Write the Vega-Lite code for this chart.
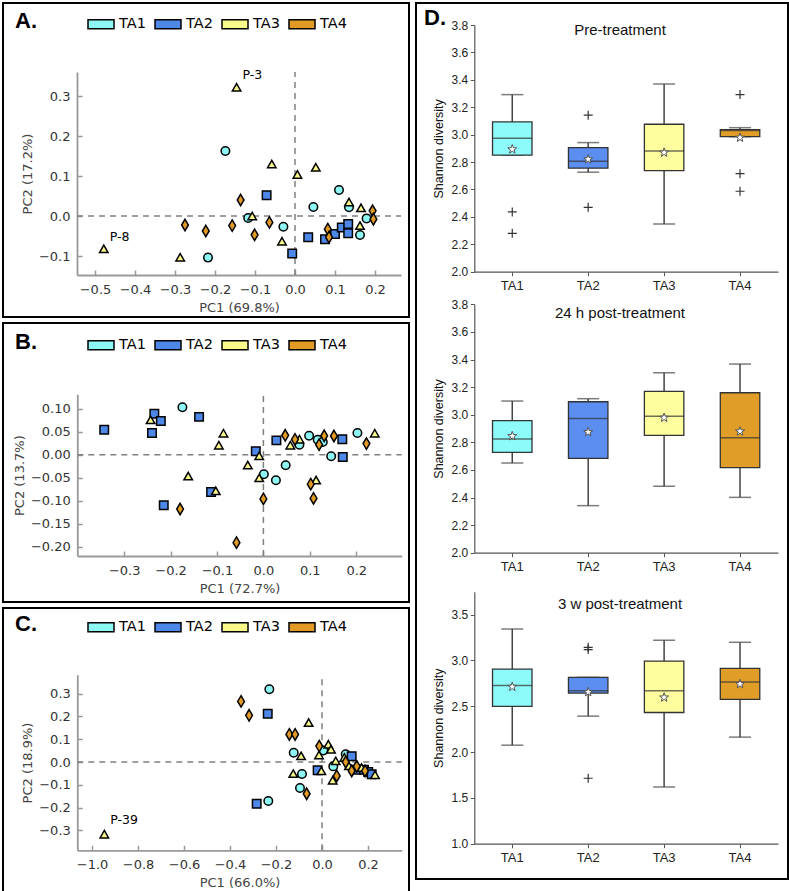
{
  "$schema": "https://vega.github.io/schema/vega-lite/v6.json",
  "background": "white",
  "padding": {"left": 2, "top": 2, "right": 0, "bottom": 0},
  "config": {
    "view": {"stroke": "black", "strokeWidth": 2},
    "font": "DejaVu Sans",
    "axis": {"grid": false, "domainColor": "#999", "domainWidth": 1.8, "tickColor": "#999", "tickWidth": 1.5, "tickSize": -5, "labelFont": "DejaVu Sans", "labelFontSize": 13, "labelColor": "#333", "titleFont": "DejaVu Sans", "titleFontSize": 13, "titleFontWeight": "normal", "titleColor": "#444"},
    "axisX": {"labelPadding": 13, "titlePadding": 5},
    "axisY": {"labelPadding": 12, "titlePadding": 4},
    "legend": {"orient": "none", "direction": "horizontal", "titleOrient": "left", "titleFont": "Liberation Sans", "titleFontSize": 22, "titleFontWeight": "bold", "titleColor": "black", "titlePadding": 50, "symbolType": "M-1,-0.34H1V0.34H-1Z", "symbolSize": 676, "symbolStrokeColor": "black", "symbolStrokeWidth": 1.5, "symbolOpacity": 1, "labelFont": "DejaVu Sans", "labelFontSize": 14.5, "labelColor": "black", "labelOffset": 4, "columnPadding": 6, "padding": 0}
  },
  "datasets": {
    "pA": [
      {"g":"TA1","x":-0.2175,"y":-0.104},{"g":"TA1","x":-0.174,"y":0.1625},{"g":"TA1","x":-0.117,"y":-0.005},{"g":"TA1","x":-0.029,"y":-0.027},{"g":"TA1","x":0.046,"y":0.0225},{"g":"TA1","x":0.11,"y":0.065},{"g":"TA1","x":0.135,"y":0.022},{"g":"TA1","x":0.179,"y":-0.006},{"g":"TA1","x":0.1625,"y":-0.0475},
      {"g":"TA2","x":-0.071,"y":0.052},{"g":"TA2","x":-0.007,"y":-0.094},{"g":"TA2","x":0.033,"y":-0.053},{"g":"TA2","x":0.075,"y":-0.058},{"g":"TA2","x":0.1,"y":-0.045},{"g":"TA2","x":0.117,"y":-0.029},{"g":"TA2","x":0.133,"y":-0.043},{"g":"TA2","x":0.133,"y":-0.02},
      {"g":"TA3","x":-0.478,"y":-0.085},{"g":"TA3","x":-0.287,"y":-0.106},{"g":"TA3","x":-0.146,"y":0.319},{"g":"TA3","x":-0.107,"y":-0.003},{"g":"TA3","x":-0.058,"y":0.127},{"g":"TA3","x":-0.0325,"y":-0.066},{"g":"TA3","x":0.006,"y":0.101},{"g":"TA3","x":0.052,"y":0.119},{"g":"TA3","x":0.135,"y":0.032},{"g":"TA3","x":0.165,"y":0.0175},{"g":"TA3","x":0.1625,"y":-0.027},
      {"g":"TA4","x":-0.275,"y":-0.0225},{"g":"TA4","x":-0.223,"y":-0.0375},{"g":"TA4","x":-0.157,"y":-0.024},{"g":"TA4","x":-0.136,"y":0.04},{"g":"TA4","x":-0.101,"y":-0.047},{"g":"TA4","x":-0.064,"y":-0.016},{"g":"TA4","x":0.082,"y":-0.033},{"g":"TA4","x":0.085,"y":-0.053},{"g":"TA4","x":0.194,"y":0.013},{"g":"TA4","x":0.196,"y":-0.008}
    ],
    "pB": [
      {"g":"TA1","x":-0.1745,"y":0.103},{"g":"TA1","x":0.001,"y":-0.0425},{"g":"TA1","x":0.027,"y":-0.0556},{"g":"TA1","x":0.048,"y":-0.023},{"g":"TA1","x":0.0776,"y":0.0217},{"g":"TA1","x":0.0985,"y":0.041},{"g":"TA1","x":0.117,"y":0.0325},{"g":"TA1","x":0.128,"y":0.0275},{"g":"TA1","x":0.146,"y":-0.0035},{"g":"TA1","x":0.2026,"y":0.047},
      {"g":"TA2","x":-0.343,"y":0.054},{"g":"TA2","x":-0.235,"y":0.089},{"g":"TA2","x":-0.221,"y":0.073},{"g":"TA2","x":-0.24,"y":0.047},{"g":"TA2","x":-0.1386,"y":0.082},{"g":"TA2","x":-0.2147,"y":-0.11},{"g":"TA2","x":-0.1127,"y":-0.081},{"g":"TA2","x":-0.0164,"y":0.0073},{"g":"TA2","x":0.028,"y":0.031},{"g":"TA2","x":0.17,"y":0.0334},{"g":"TA2","x":0.171,"y":-0.005},
      {"g":"TA3","x":-0.243,"y":0.073},{"g":"TA3","x":-0.086,"y":0.044},{"g":"TA3","x":-0.096,"y":0.018},{"g":"TA3","x":-0.162,"y":-0.049},{"g":"TA3","x":-0.1026,"y":-0.081},{"g":"TA3","x":-0.0336,"y":-0.025},{"g":"TA3","x":-0.009,"y":-0.005},{"g":"TA3","x":-0.009,"y":-0.053},{"g":"TA3","x":0.058,"y":0.018},{"g":"TA3","x":0.0776,"y":0.031},{"g":"TA3","x":0.1136,"y":-0.0577},{"g":"TA3","x":0.24,"y":0.044},
      {"g":"TA4","x":-0.1795,"y":-0.118},{"g":"TA4","x":-0.058,"y":-0.191},{"g":"TA4","x":0.0,"y":-0.096},{"g":"TA4","x":0.047,"y":0.042},{"g":"TA4","x":0.068,"y":0.033},{"g":"TA4","x":0.12,"y":0.0217},{"g":"TA4","x":0.131,"y":0.041},{"g":"TA4","x":0.152,"y":0.0405},{"g":"TA4","x":0.222,"y":0.024},{"g":"TA4","x":0.102,"y":-0.064},{"g":"TA4","x":0.108,"y":-0.095}
    ],
    "pC": [
      {"g":"TA1","x":-0.229,"y":0.319},{"g":"TA1","x":-0.2335,"y":-0.171},{"g":"TA1","x":-0.123,"y":0.041},{"g":"TA1","x":-0.087,"y":-0.0526},{"g":"TA1","x":-0.0957,"y":-0.114},{"g":"TA1","x":0.006,"y":0.051},{"g":"TA1","x":0.049,"y":-0.019},{"g":"TA1","x":0.103,"y":0.034},
      {"g":"TA2","x":-0.236,"y":0.212},{"g":"TA2","x":-0.284,"y":-0.183},{"g":"TA2","x":-0.019,"y":-0.036},{"g":"TA2","x":0.129,"y":0.025},{"g":"TA2","x":0.151,"y":-0.034},{"g":"TA2","x":0.1826,"y":-0.034},{"g":"TA2","x":0.201,"y":-0.044},{"g":"TA2","x":0.216,"y":-0.054},
      {"g":"TA3","x":-0.9465,"y":-0.3215},{"g":"TA3","x":-0.058,"y":0.168},{"g":"TA3","x":-0.091,"y":0.022},{"g":"TA3","x":-0.125,"y":-0.056},{"g":"TA3","x":-0.013,"y":0.026},{"g":"TA3","x":-0.003,"y":-0.044},{"g":"TA3","x":0.0275,"y":0.073},{"g":"TA3","x":0.039,"y":0.051},{"g":"TA3","x":0.0596,"y":0.0},{"g":"TA3","x":0.0465,"y":-0.085},{"g":"TA3","x":0.097,"y":0.015},{"g":"TA3","x":0.117,"y":-0.022},{"g":"TA3","x":0.172,"y":-0.029},{"g":"TA3","x":0.2304,"y":-0.061},
      {"g":"TA4","x":-0.352,"y":0.266},{"g":"TA4","x":-0.317,"y":0.205},{"g":"TA4","x":-0.142,"y":0.121},{"g":"TA4","x":-0.117,"y":0.121},{"g":"TA4","x":-0.0667,"y":-0.139},{"g":"TA4","x":-0.012,"y":0.07},{"g":"TA4","x":0.064,"y":-0.061},{"g":"TA4","x":0.103,"y":0.0},{"g":"TA4","x":0.129,"y":-0.039},{"g":"TA4","x":0.151,"y":-0.019},{"g":"TA4","x":0.187,"y":-0.039}
    ],
    "box": [
      {"s":1,"g":"TA1","lo":2.85,"q1":2.85,"med":2.974,"q3":3.093,"hi":3.292,"mean":2.893},
      {"s":1,"g":"TA2","lo":2.726,"q1":2.755,"med":2.806,"q3":2.905,"hi":2.942,"mean":2.82},
      {"s":1,"g":"TA3","lo":2.348,"q1":2.737,"med":2.881,"q3":3.076,"hi":3.37,"mean":2.869},
      {"s":1,"g":"TA4","lo":2.985,"q1":2.985,"med":3.03,"q3":3.036,"hi":3.051,"mean":2.978},
      {"s":2,"g":"TA1","lo":2.65,"q1":2.727,"med":2.824,"q3":2.957,"hi":3.099,"mean":2.845},
      {"s":2,"g":"TA2","lo":2.341,"q1":2.684,"med":2.973,"q3":3.094,"hi":3.116,"mean":2.874},
      {"s":2,"g":"TA3","lo":2.481,"q1":2.85,"med":2.988,"q3":3.169,"hi":3.304,"mean":2.978},
      {"s":2,"g":"TA4","lo":2.401,"q1":2.616,"med":2.833,"q3":3.159,"hi":3.367,"mean":2.879},
      {"s":3,"g":"TA1","lo":2.075,"q1":2.498,"med":2.727,"q3":2.906,"hi":3.343,"mean":2.713},
      {"s":3,"g":"TA2","lo":2.392,"q1":2.644,"med":2.669,"q3":2.815,"hi":2.815,"mean":2.655},
      {"s":3,"g":"TA3","lo":1.62,"q1":2.432,"med":2.669,"q3":2.993,"hi":3.219,"mean":2.596},
      {"s":3,"g":"TA4","lo":2.163,"q1":2.574,"med":2.764,"q3":2.913,"hi":3.198,"mean":2.742}
    ],
    "out": [
      {"s":1,"g":"TA1","v":2.436},{"s":1,"g":"TA1","v":2.28},{"s":1,"g":"TA2","v":3.142},{"s":1,"g":"TA2","v":2.47},{"s":1,"g":"TA4","v":3.292},{"s":1,"g":"TA4","v":2.715},{"s":1,"g":"TA4","v":2.587},
      {"s":3,"g":"TA2","v":3.143},{"s":3,"g":"TA2","v":3.118},{"s":3,"g":"TA2","v":1.714}
    ]
  },
  "resolve": {"scale": {"fill": "independent"}, "legend": {"fill": "independent"}},
  "spacing": 5,
  "hconcat": [
    {
      "spacing": 4,
      "resolve": {"scale": {"fill": "independent"}, "legend": {"fill": "independent"}},
      "vconcat": [
        {
          "width": 406, "height": 314,
          "encoding": {
            "x": {"field": "x", "type": "quantitative", "scale": {"domain": [-0.545, 0.265], "range": [74, 398], "nice": false, "zero": false}, "axis": {"title": "PC1 (69.8%)", "values": [-0.5, -0.4, -0.3, -0.2, -0.1, 0, 0.1, 0.2], "format": ".1f", "offset": -42}},
            "y": {"field": "y", "type": "quantitative", "scale": {"domain": [-0.1475, 0.36], "range": [272, 69], "nice": false, "zero": false}, "axis": {"title": "PC2 (17.2%)", "values": [-0.1, 0, 0.1, 0.2, 0.3], "format": ".1f", "offset": -74}},
            "fill": {"field": "g", "type": "nominal", "scale": {"domain": ["TA1", "TA2", "TA3", "TA4"], "range": ["#8DF7F4", "#4D88E8", "#F9F98B", "#E19B24"]}, "legend": {"legendX": 12, "legendY": 7, "title": "A."}}
          },
          "layer": [
            {"data": {"values": [{"x": -0.545, "x2": 0.265, "y": 0, "y2": 0}, {"x": 0, "x2": 0, "y": -0.1475, "y2": 0.36}]}, "mark": {"type": "rule", "color": "#808080", "strokeWidth": 1.5, "strokeDash": [6, 5]}, "encoding": {"x2": {"field": "x2"}, "y2": {"field": "y2"}, "fill": null}},
            {"data": {"name": "pA"}, "transform": [{"filter": "datum.g == 'TA1'"}], "mark": {"type": "point", "shape": "circle", "filled": true, "size": 72, "stroke": "black", "strokeWidth": 1.5, "opacity": 1}},
            {"data": {"name": "pA"}, "transform": [{"filter": "datum.g == 'TA2'"}], "mark": {"type": "point", "shape": "square", "filled": true, "size": 72, "stroke": "black", "strokeWidth": 1.5, "opacity": 1}},
            {"data": {"name": "pA"}, "transform": [{"filter": "datum.g == 'TA3'"}], "mark": {"type": "point", "shape": "M0,-1.15L1.0,0.6L-1.0,0.6Z", "filled": true, "size": 72, "stroke": "black", "strokeWidth": 1.5, "opacity": 1}},
            {"data": {"name": "pA"}, "transform": [{"filter": "datum.g == 'TA4'"}], "mark": {"type": "point", "shape": "M0,-1.35L0.8,0L0,1.35L-0.8,0Z", "filled": true, "size": 72, "stroke": "black", "strokeWidth": 1.5, "opacity": 1}},
            {"data": {"values": [{"label": "P-3", "x": -0.146, "y": 0.319}, {"label": "P-8", "x": -0.478, "y": -0.085}]}, "mark": {"type": "text", "align": "left", "dx": 6, "dy": -13, "fontSize": 12.5, "font": "DejaVu Sans", "color": "black"}, "encoding": {"text": {"field": "label"}, "fill": null}}
          ]
        },
        {
          "width": 406, "height": 279,
          "encoding": {
            "x": {"field": "x", "type": "quantitative", "scale": {"domain": [-0.401, 0.298], "range": [74.3, 398.7], "nice": false, "zero": false}, "axis": {"title": "PC1 (72.7%)", "values": [-0.3, -0.2, -0.1, 0, 0.1, 0.2], "format": ".1f", "offset": -46}},
            "y": {"field": "y", "type": "quantitative", "scale": {"domain": [-0.22, 0.131], "range": [233, 71.3], "nice": false, "zero": false}, "axis": {"title": "PC2 (13.7%)", "values": [-0.2, -0.15, -0.1, -0.05, 0, 0.05, 0.1], "format": ".2f", "offset": -74.3}},
            "fill": {"field": "g", "type": "nominal", "scale": {"domain": ["TA1", "TA2", "TA3", "TA4"], "range": ["#8DF7F4", "#4D88E8", "#F9F98B", "#E19B24"]}, "legend": {"legendX": 12, "legendY": 8, "title": "B."}}
          },
          "layer": [
            {"data": {"values": [{"x": -0.401, "x2": 0.298, "y": 0, "y2": 0}, {"x": 0, "x2": 0, "y": -0.22, "y2": 0.131}]}, "mark": {"type": "rule", "color": "#808080", "strokeWidth": 1.5, "strokeDash": [6, 5]}, "encoding": {"x2": {"field": "x2"}, "y2": {"field": "y2"}, "fill": null}},
            {"data": {"name": "pB"}, "transform": [{"filter": "datum.g == 'TA1'"}], "mark": {"type": "point", "shape": "circle", "filled": true, "size": 72, "stroke": "black", "strokeWidth": 1.5, "opacity": 1}},
            {"data": {"name": "pB"}, "transform": [{"filter": "datum.g == 'TA2'"}], "mark": {"type": "point", "shape": "square", "filled": true, "size": 72, "stroke": "black", "strokeWidth": 1.5, "opacity": 1}},
            {"data": {"name": "pB"}, "transform": [{"filter": "datum.g == 'TA3'"}], "mark": {"type": "point", "shape": "M0,-1.15L1.0,0.6L-1.0,0.6Z", "filled": true, "size": 72, "stroke": "black", "strokeWidth": 1.5, "opacity": 1}},
            {"data": {"name": "pB"}, "transform": [{"filter": "datum.g == 'TA4'"}], "mark": {"type": "point", "shape": "M0,-1.35L0.8,0L0,1.35L-0.8,0Z", "filled": true, "size": 72, "stroke": "black", "strokeWidth": 1.5, "opacity": 1}}
          ]
        },
        {
          "width": 406, "height": 284,
          "encoding": {
            "x": {"field": "x", "type": "quantitative", "scale": {"domain": [-1.064, 0.3465], "range": [74.3, 398.7], "nice": false, "zero": false}, "axis": {"title": "PC1 (66.0%)", "values": [-1, -0.8, -0.6, -0.4, -0.2, 0, 0.2], "format": ".1f", "offset": -41.7}},
            "y": {"field": "y", "type": "quantitative", "scale": {"domain": [-0.387, 0.383], "range": [242.3, 66.7], "nice": false, "zero": false}, "axis": {"title": "PC2 (18.9%)", "values": [-0.3, -0.2, -0.1, 0, 0.1, 0.2, 0.3], "format": ".1f", "offset": -74.3}},
            "fill": {"field": "g", "type": "nominal", "scale": {"domain": ["TA1", "TA2", "TA3", "TA4"], "range": ["#8DF7F4", "#4D88E8", "#F9F98B", "#E19B24"]}, "legend": {"legendX": 12, "legendY": 5, "title": "C."}}
          },
          "layer": [
            {"data": {"values": [{"x": -1.064, "x2": 0.3465, "y": 0, "y2": 0}, {"x": 0, "x2": 0, "y": -0.387, "y2": 0.383}]}, "mark": {"type": "rule", "color": "#808080", "strokeWidth": 1.5, "strokeDash": [6, 5]}, "encoding": {"x2": {"field": "x2"}, "y2": {"field": "y2"}, "fill": null}},
            {"data": {"name": "pC"}, "transform": [{"filter": "datum.g == 'TA1'"}], "mark": {"type": "point", "shape": "circle", "filled": true, "size": 72, "stroke": "black", "strokeWidth": 1.5, "opacity": 1}},
            {"data": {"name": "pC"}, "transform": [{"filter": "datum.g == 'TA2'"}], "mark": {"type": "point", "shape": "square", "filled": true, "size": 72, "stroke": "black", "strokeWidth": 1.5, "opacity": 1}},
            {"data": {"name": "pC"}, "transform": [{"filter": "datum.g == 'TA3'"}], "mark": {"type": "point", "shape": "M0,-1.15L1.0,0.6L-1.0,0.6Z", "filled": true, "size": 72, "stroke": "black", "strokeWidth": 1.5, "opacity": 1}},
            {"data": {"name": "pC"}, "transform": [{"filter": "datum.g == 'TA4'"}], "mark": {"type": "point", "shape": "M0,-1.35L0.8,0L0,1.35L-0.8,0Z", "filled": true, "size": 72, "stroke": "black", "strokeWidth": 1.5, "opacity": 1}},
            {"data": {"values": [{"label": "P-39", "x": -0.9465, "y": -0.3215}]}, "mark": {"type": "text", "align": "left", "dx": 6, "dy": -15, "fontSize": 12.5, "font": "DejaVu Sans", "color": "black"}, "encoding": {"text": {"field": "label"}, "fill": null}}
          ]
        }
      ]
    },
    {
      "width": 372, "height": 876,
      "title": {"text": "D.", "anchor": "start", "frame": "group", "offset": -27, "dx": 8, "font": "Liberation Sans", "fontSize": 22, "fontWeight": "bold", "color": "black"},
      "resolve": {"scale": {"x": "independent", "y": "independent"}, "axis": {"x": "independent", "y": "independent"}},
      "layer": [
        {
          "layer": [
            {"data": {"name": "box"}, "transform": [{"filter": "datum.s == 1"}], "mark": {"type": "rule", "color": "#444", "strokeWidth": 1.5},
             "encoding": {
               "x": {"field": "g", "type": "nominal", "scale": {"domain": ["TA1", "TA2", "TA3", "TA4"], "range": [58.3, 362], "paddingInner": 0.48, "paddingOuter": 0.24}, "axis": {"orient": "bottom", "offset": -607.3, "title": null, "labelAngle": 0, "domainColor": "#555", "domainWidth": 1.2, "tickColor": "#555", "tickWidth": 1, "tickSize": 4, "labelFont": "Liberation Sans", "labelFontSize": 13, "labelColor": "#222", "labelPadding": 4}},
               "y": {"field": "lo", "type": "quantitative", "scale": {"domain": [2.0, 3.8], "range": [268.7, 22], "nice": false, "zero": false}, "axis": {"orient": "left", "offset": -58.3, "title": "Shannon diversity", "values": [2.0, 2.2, 2.4, 2.6, 2.8, 3.0, 3.2, 3.4, 3.6, 3.8], "format": ".1f", "domainColor": "#555", "domainWidth": 1.2, "tickColor": "#555", "tickWidth": 1, "tickSize": 4, "labelFont": "Liberation Sans", "labelFontSize": 12, "labelColor": "#222", "labelPadding": 2.5, "titleFont": "Liberation Sans", "titleFontSize": 12.5, "titleColor": "#111", "titlePadding": 6}},
               "y2": {"field": "hi"}
             }},
            {"data": {"name": "box"}, "transform": [{"filter": "datum.s == 1"}], "mark": {"type": "tick", "color": "#444", "thickness": 1.5, "size": 22},
             "encoding": {"x": {"field": "g", "type": "nominal", "scale": {"domain": ["TA1", "TA2", "TA3", "TA4"], "range": [58.3, 362], "paddingInner": 0.48, "paddingOuter": 0.24}}, "y": {"field": "lo", "type": "quantitative", "scale": {"domain": [2.0, 3.8], "range": [268.7, 22], "nice": false, "zero": false}}}},
            {"data": {"name": "box"}, "transform": [{"filter": "datum.s == 1"}], "mark": {"type": "tick", "color": "#444", "thickness": 1.5, "size": 22},
             "encoding": {"x": {"field": "g", "type": "nominal", "scale": {"domain": ["TA1", "TA2", "TA3", "TA4"], "range": [58.3, 362], "paddingInner": 0.48, "paddingOuter": 0.24}}, "y": {"field": "hi", "type": "quantitative", "scale": {"domain": [2.0, 3.8], "range": [268.7, 22], "nice": false, "zero": false}}}},
            {"data": {"name": "box"}, "transform": [{"filter": "datum.s == 1"}], "mark": {"type": "bar", "stroke": "#333", "strokeWidth": 1.3},
             "encoding": {"x": {"field": "g", "type": "nominal", "scale": {"domain": ["TA1", "TA2", "TA3", "TA4"], "range": [58.3, 362], "paddingInner": 0.48, "paddingOuter": 0.24}}, "y": {"field": "q1", "type": "quantitative", "scale": {"domain": [2.0, 3.8], "range": [268.7, 22], "nice": false, "zero": false}}, "y2": {"field": "q3"},
               "fill": {"field": "g", "type": "nominal", "scale": {"domain": ["TA1", "TA2", "TA3", "TA4"], "range": ["#8EFBFB", "#5B8EF0", "#FEFE9F", "#E09D28"]}, "legend": null}}},
            {"data": {"name": "box"}, "transform": [{"filter": "datum.s == 1"}], "mark": {"type": "tick", "color": "#333", "thickness": 1.5, "size": 40},
             "encoding": {"x": {"field": "g", "type": "nominal", "scale": {"domain": ["TA1", "TA2", "TA3", "TA4"], "range": [58.3, 362], "paddingInner": 0.48, "paddingOuter": 0.24}}, "y": {"field": "med", "type": "quantitative", "scale": {"domain": [2.0, 3.8], "range": [268.7, 22], "nice": false, "zero": false}}}},
            {"data": {"name": "box"}, "transform": [{"filter": "datum.s == 1"}], "mark": {"type": "point", "shape": "M0,-1L0.235,-0.324L0.951,-0.309L0.38,0.124L0.588,0.809L0,0.4L-0.588,0.809L-0.38,0.124L-0.951,-0.309L-0.235,-0.324Z", "filled": true, "fill": "white", "stroke": "#555", "strokeWidth": 1, "size": 90, "opacity": 1},
             "encoding": {"x": {"field": "g", "type": "nominal", "scale": {"domain": ["TA1", "TA2", "TA3", "TA4"], "range": [58.3, 362], "paddingInner": 0.48, "paddingOuter": 0.24}}, "y": {"field": "mean", "type": "quantitative", "scale": {"domain": [2.0, 3.8], "range": [268.7, 22], "nice": false, "zero": false}}}},
            {"data": {"name": "out"}, "transform": [{"filter": "datum.s == 1"}], "mark": {"type": "point", "shape": "M-1,0H1M0,-1V1", "filled": false, "stroke": "#333", "strokeWidth": 1.2, "size": 81, "opacity": 1},
             "encoding": {"x": {"field": "g", "type": "nominal", "scale": {"domain": ["TA1", "TA2", "TA3", "TA4"], "range": [58.3, 362], "paddingInner": 0.48, "paddingOuter": 0.24}}, "y": {"field": "v", "type": "quantitative", "scale": {"domain": [2.0, 3.8], "range": [268.7, 22], "nice": false, "zero": false}}}},
            {"data": {"values": [{"t": "Pre-treatment", "v": 3.76}]}, "mark": {"type": "text", "font": "Liberation Sans", "fontSize": 15, "color": "#111", "dx": 18, "baseline": "middle"},
             "encoding": {"text": {"field": "t"}, "y": {"field": "v", "type": "quantitative", "scale": {"domain": [2.0, 3.8], "range": [268.7, 22], "nice": false, "zero": false}}}}
          ]
        },
        {
          "layer": [
            {"data": {"name": "box"}, "transform": [{"filter": "datum.s == 2"}], "mark": {"type": "rule", "color": "#444", "strokeWidth": 1.5},
             "encoding": {
               "x": {"field": "g", "type": "nominal", "scale": {"domain": ["TA1", "TA2", "TA3", "TA4"], "range": [58.3, 362], "paddingInner": 0.48, "paddingOuter": 0.24}, "axis": {"orient": "bottom", "offset": -326.3, "title": null, "labelAngle": 0, "domainColor": "#555", "domainWidth": 1.2, "tickColor": "#555", "tickWidth": 1, "tickSize": 4, "labelFont": "Liberation Sans", "labelFontSize": 13, "labelColor": "#222", "labelPadding": 4}},
               "y": {"field": "lo", "type": "quantitative", "scale": {"domain": [2.0, 3.8], "range": [549.7, 301.3], "nice": false, "zero": false}, "axis": {"orient": "left", "offset": -58.3, "title": "Shannon diversity", "values": [2.0, 2.2, 2.4, 2.6, 2.8, 3.0, 3.2, 3.4, 3.6, 3.8], "format": ".1f", "domainColor": "#555", "domainWidth": 1.2, "tickColor": "#555", "tickWidth": 1, "tickSize": 4, "labelFont": "Liberation Sans", "labelFontSize": 12, "labelColor": "#222", "labelPadding": 2.5, "titleFont": "Liberation Sans", "titleFontSize": 12.5, "titleColor": "#111", "titlePadding": 6}},
               "y2": {"field": "hi"}
             }},
            {"data": {"name": "box"}, "transform": [{"filter": "datum.s == 2"}], "mark": {"type": "tick", "color": "#444", "thickness": 1.5, "size": 22},
             "encoding": {"x": {"field": "g", "type": "nominal", "scale": {"domain": ["TA1", "TA2", "TA3", "TA4"], "range": [58.3, 362], "paddingInner": 0.48, "paddingOuter": 0.24}}, "y": {"field": "lo", "type": "quantitative", "scale": {"domain": [2.0, 3.8], "range": [549.7, 301.3], "nice": false, "zero": false}}}},
            {"data": {"name": "box"}, "transform": [{"filter": "datum.s == 2"}], "mark": {"type": "tick", "color": "#444", "thickness": 1.5, "size": 22},
             "encoding": {"x": {"field": "g", "type": "nominal", "scale": {"domain": ["TA1", "TA2", "TA3", "TA4"], "range": [58.3, 362], "paddingInner": 0.48, "paddingOuter": 0.24}}, "y": {"field": "hi", "type": "quantitative", "scale": {"domain": [2.0, 3.8], "range": [549.7, 301.3], "nice": false, "zero": false}}}},
            {"data": {"name": "box"}, "transform": [{"filter": "datum.s == 2"}], "mark": {"type": "bar", "stroke": "#333", "strokeWidth": 1.3},
             "encoding": {"x": {"field": "g", "type": "nominal", "scale": {"domain": ["TA1", "TA2", "TA3", "TA4"], "range": [58.3, 362], "paddingInner": 0.48, "paddingOuter": 0.24}}, "y": {"field": "q1", "type": "quantitative", "scale": {"domain": [2.0, 3.8], "range": [549.7, 301.3], "nice": false, "zero": false}}, "y2": {"field": "q3"},
               "fill": {"field": "g", "type": "nominal", "scale": {"domain": ["TA1", "TA2", "TA3", "TA4"], "range": ["#8EFBFB", "#5B8EF0", "#FEFE9F", "#E09D28"]}, "legend": null}}},
            {"data": {"name": "box"}, "transform": [{"filter": "datum.s == 2"}], "mark": {"type": "tick", "color": "#333", "thickness": 1.5, "size": 40},
             "encoding": {"x": {"field": "g", "type": "nominal", "scale": {"domain": ["TA1", "TA2", "TA3", "TA4"], "range": [58.3, 362], "paddingInner": 0.48, "paddingOuter": 0.24}}, "y": {"field": "med", "type": "quantitative", "scale": {"domain": [2.0, 3.8], "range": [549.7, 301.3], "nice": false, "zero": false}}}},
            {"data": {"name": "box"}, "transform": [{"filter": "datum.s == 2"}], "mark": {"type": "point", "shape": "M0,-1L0.235,-0.324L0.951,-0.309L0.38,0.124L0.588,0.809L0,0.4L-0.588,0.809L-0.38,0.124L-0.951,-0.309L-0.235,-0.324Z", "filled": true, "fill": "white", "stroke": "#555", "strokeWidth": 1, "size": 90, "opacity": 1},
             "encoding": {"x": {"field": "g", "type": "nominal", "scale": {"domain": ["TA1", "TA2", "TA3", "TA4"], "range": [58.3, 362], "paddingInner": 0.48, "paddingOuter": 0.24}}, "y": {"field": "mean", "type": "quantitative", "scale": {"domain": [2.0, 3.8], "range": [549.7, 301.3], "nice": false, "zero": false}}}},
            {"data": {"values": [{"t": "24 h post-treatment", "v": 3.735}]}, "mark": {"type": "text", "font": "Liberation Sans", "fontSize": 15, "color": "#111", "dx": 18, "baseline": "middle"},
             "encoding": {"text": {"field": "t"}, "y": {"field": "v", "type": "quantitative", "scale": {"domain": [2.0, 3.8], "range": [549.7, 301.3], "nice": false, "zero": false}}}}
          ]
        },
        {
          "layer": [
            {"data": {"name": "box"}, "transform": [{"filter": "datum.s == 3"}], "mark": {"type": "rule", "color": "#444", "strokeWidth": 1.5},
             "encoding": {
               "x": {"field": "g", "type": "nominal", "scale": {"domain": ["TA1", "TA2", "TA3", "TA4"], "range": [58.3, 362], "paddingInner": 0.48, "paddingOuter": 0.24}, "axis": {"orient": "bottom", "offset": -35.3, "title": null, "labelAngle": 0, "domainColor": "#555", "domainWidth": 1.2, "tickColor": "#555", "tickWidth": 1, "tickSize": 4, "labelFont": "Liberation Sans", "labelFontSize": 13, "labelColor": "#222", "labelPadding": 4}},
               "y": {"field": "lo", "type": "quantitative", "scale": {"domain": [1.0, 3.75], "range": [840.7, 588.7], "nice": false, "zero": false}, "axis": {"orient": "left", "offset": -58.3, "title": "Shannon diversity", "values": [1.0, 1.5, 2.0, 2.5, 3.0, 3.5], "format": ".1f", "domainColor": "#555", "domainWidth": 1.2, "tickColor": "#555", "tickWidth": 1, "tickSize": 4, "labelFont": "Liberation Sans", "labelFontSize": 12, "labelColor": "#222", "labelPadding": 2.5, "titleFont": "Liberation Sans", "titleFontSize": 12.5, "titleColor": "#111", "titlePadding": 6}},
               "y2": {"field": "hi"}
             }},
            {"data": {"name": "box"}, "transform": [{"filter": "datum.s == 3"}], "mark": {"type": "tick", "color": "#444", "thickness": 1.5, "size": 22},
             "encoding": {"x": {"field": "g", "type": "nominal", "scale": {"domain": ["TA1", "TA2", "TA3", "TA4"], "range": [58.3, 362], "paddingInner": 0.48, "paddingOuter": 0.24}}, "y": {"field": "lo", "type": "quantitative", "scale": {"domain": [1.0, 3.75], "range": [840.7, 588.7], "nice": false, "zero": false}}}},
            {"data": {"name": "box"}, "transform": [{"filter": "datum.s == 3"}], "mark": {"type": "tick", "color": "#444", "thickness": 1.5, "size": 22},
             "encoding": {"x": {"field": "g", "type": "nominal", "scale": {"domain": ["TA1", "TA2", "TA3", "TA4"], "range": [58.3, 362], "paddingInner": 0.48, "paddingOuter": 0.24}}, "y": {"field": "hi", "type": "quantitative", "scale": {"domain": [1.0, 3.75], "range": [840.7, 588.7], "nice": false, "zero": false}}}},
            {"data": {"name": "box"}, "transform": [{"filter": "datum.s == 3"}], "mark": {"type": "bar", "stroke": "#333", "strokeWidth": 1.3},
             "encoding": {"x": {"field": "g", "type": "nominal", "scale": {"domain": ["TA1", "TA2", "TA3", "TA4"], "range": [58.3, 362], "paddingInner": 0.48, "paddingOuter": 0.24}}, "y": {"field": "q1", "type": "quantitative", "scale": {"domain": [1.0, 3.75], "range": [840.7, 588.7], "nice": false, "zero": false}}, "y2": {"field": "q3"},
               "fill": {"field": "g", "type": "nominal", "scale": {"domain": ["TA1", "TA2", "TA3", "TA4"], "range": ["#8EFBFB", "#5B8EF0", "#FEFE9F", "#E09D28"]}, "legend": null}}},
            {"data": {"name": "box"}, "transform": [{"filter": "datum.s == 3"}], "mark": {"type": "tick", "color": "#333", "thickness": 1.5, "size": 40},
             "encoding": {"x": {"field": "g", "type": "nominal", "scale": {"domain": ["TA1", "TA2", "TA3", "TA4"], "range": [58.3, 362], "paddingInner": 0.48, "paddingOuter": 0.24}}, "y": {"field": "med", "type": "quantitative", "scale": {"domain": [1.0, 3.75], "range": [840.7, 588.7], "nice": false, "zero": false}}}},
            {"data": {"name": "box"}, "transform": [{"filter": "datum.s == 3"}], "mark": {"type": "point", "shape": "M0,-1L0.235,-0.324L0.951,-0.309L0.38,0.124L0.588,0.809L0,0.4L-0.588,0.809L-0.38,0.124L-0.951,-0.309L-0.235,-0.324Z", "filled": true, "fill": "white", "stroke": "#555", "strokeWidth": 1, "size": 90, "opacity": 1},
             "encoding": {"x": {"field": "g", "type": "nominal", "scale": {"domain": ["TA1", "TA2", "TA3", "TA4"], "range": [58.3, 362], "paddingInner": 0.48, "paddingOuter": 0.24}}, "y": {"field": "mean", "type": "quantitative", "scale": {"domain": [1.0, 3.75], "range": [840.7, 588.7], "nice": false, "zero": false}}}},
            {"data": {"name": "out"}, "transform": [{"filter": "datum.s == 3"}], "mark": {"type": "point", "shape": "M-1,0H1M0,-1V1", "filled": false, "stroke": "#333", "strokeWidth": 1.2, "size": 81, "opacity": 1},
             "encoding": {"x": {"field": "g", "type": "nominal", "scale": {"domain": ["TA1", "TA2", "TA3", "TA4"], "range": [58.3, 362], "paddingInner": 0.48, "paddingOuter": 0.24}}, "y": {"field": "v", "type": "quantitative", "scale": {"domain": [1.0, 3.75], "range": [840.7, 588.7], "nice": false, "zero": false}}}},
            {"data": {"values": [{"t": "3 w post-treatment", "v": 3.616}]}, "mark": {"type": "text", "font": "Liberation Sans", "fontSize": 15, "color": "#111", "dx": 18, "baseline": "middle"},
             "encoding": {"text": {"field": "t"}, "y": {"field": "v", "type": "quantitative", "scale": {"domain": [1.0, 3.75], "range": [840.7, 588.7], "nice": false, "zero": false}}}}
          ]
        }
      ]
    }
  ]
}
